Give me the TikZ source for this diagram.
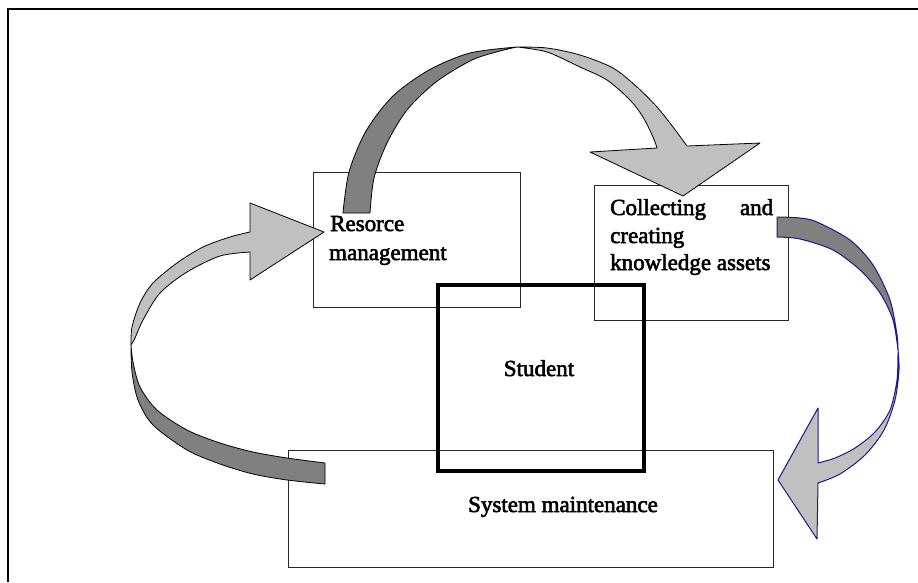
\documentclass[tikz,border=0pt]{standalone}
\usepackage{fontspec}
\setmainfont{Liberation Serif}[RawFeature={embolden=2.5}]
\definecolor{darkribbon}{RGB}{128,128,128}
\definecolor{lightribbon}{RGB}{192,192,192}
\definecolor{navyline}{RGB}{25,25,140}
\definecolor{boxline}{RGB}{40,40,40}
\begin{document}
\begin{tikzpicture}[x=1pt,y=-1pt,
  box/.style={draw=boxline,line width=1.2pt,rectangle,inner sep=0pt,anchor=north west},
  heavybox/.style={draw=black,line width=3.5pt,rectangle,inner sep=0pt,anchor=north west},
  lbl/.style={inner sep=0pt,anchor=base west,font=\fontsize{23}{28}\selectfont},
  clbl/.style={inner sep=0pt,anchor=base,font=\fontsize{23}{28}\selectfont},
  ribbonblack/.style={draw=black,line width=0.8pt,line join=round},
  ribbonblue/.style={draw=navyline,line width=1pt,line join=round}]
\useasboundingbox (0,0) rectangle (918,582);
\fill[white] (0,0) rectangle (918,582);
% outer frame (top and left sides)
\draw[line width=2pt] (8,582) -- (8,9) -- (918,9);

% boxes
\node[box,minimum width=207pt,minimum height=135pt] (rm) at (313,172) {};
\node[box,minimum width=194pt,minimum height=135pt] (ck) at (594,185) {};
\node[box,minimum width=485pt,minimum height=117pt] (sm) at (288,450) {};
\node[heavybox,minimum width=206pt,minimum height=186pt] (st) at (436,283) {};

% labels
\node[lbl] (rm1) at (330,231) {Resorce};
\node[lbl] (rm2) at (329,260) {management};
\node[lbl] (ck1) at (610,215) {\hbox to 163pt{Collecting\hfill and}};
\node[lbl] (ck2) at (610,243) {creating};
\node[lbl] (ck3) at (610,270) {knowledge assets};
\node[clbl] (stl) at (539,376) {Student};
\node[clbl] (sml) at (563,512) {System maintenance};

% top curved arrow: Resorce management -> Collecting
\filldraw[ribbonblack,fill=darkribbon]
  plot[smooth] coordinates {(343,213) (349,172) (366,131) (393,96) (429,70) (470,53) (517,47)}
  -- plot[smooth] coordinates {(517,47) (500,51) (472,60) (436,82) (407,110) (387,143) (374,178) (370,213)}
  -- cycle;
\filldraw[ribbonblack,fill=lightribbon]
  plot[smooth] coordinates {(517,47) (547,48) (580,55) (613,68) (637,87) (657,107) (673,127) (687,146)}
  -- (760,143) -- (683,196) -- (590,152) -- (657,148)
  -- plot[smooth] coordinates {(657,148) (653,137) (643,117) (630,100) (607,80) (580,67) (547,52) (517,47)}
  -- cycle;

% right curved arrow: Collecting -> System maintenance
\filldraw[ribbonblue,fill=darkribbon]
  plot[smooth] coordinates {(777,217) (800,218) (817,222) (850,240) (873,265) (890,300) (897,335) (898,350)}
  -- plot[smooth] coordinates {(898,350) (893,320) (880,293) (860,270) (833,250) (800,239) (777,237)}
  -- cycle;
\filldraw[ribbonblue,fill=lightribbon]
  plot[smooth] coordinates {(898,350) (897,380) (890,410) (875,432) (855,448) (835,458) (818,463)}
  -- (818,408) -- (778,480) -- (817,539) -- (818,483)
  -- plot[smooth] coordinates {(818,483) (840,474) (865,455) (884,430) (895,400) (899,370) (898,350)}
  -- cycle;

% left curved arrow: System maintenance -> Resorce management
\filldraw[ribbonblack,fill=darkribbon]
  plot[smooth] coordinates {(325,463) (287,458) (253,452) (220,443) (187,430) (157,410) (140,387) (133,362) (131,345)}
  -- plot[smooth] coordinates {(131,345) (132,372) (138,400) (153,425) (187,450) (220,464) (253,474) (287,480) (325,484)}
  -- cycle;
\filldraw[ribbonblack,fill=lightribbon]
  plot[smooth] coordinates {(131,345) (132,327) (140,303) (153,283) (177,263) (203,247) (230,237) (250,232)}
  -- (250,203) -- (324,232) -- (250,280) -- (250,252)
  -- plot[smooth] coordinates {(250,252) (220,256) (187,272) (160,293) (143,320) (135,338) (131,345)}
  -- cycle;
\end{tikzpicture}
\end{document}
